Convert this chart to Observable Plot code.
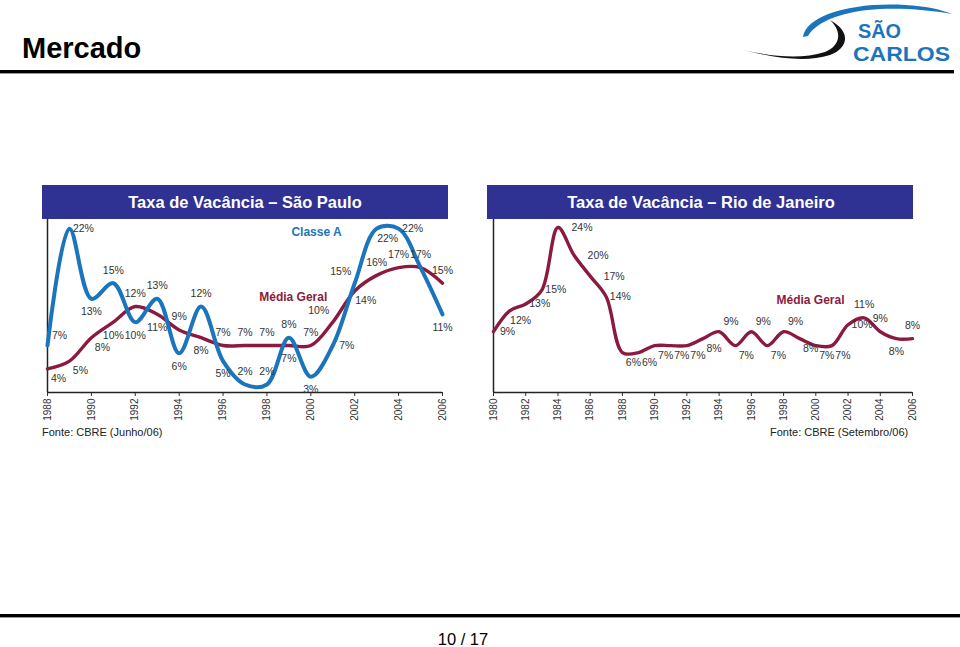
<!DOCTYPE html>
<html>
<head>
<meta charset="utf-8">
<script src="https://cdn.jsdelivr.net/npm/d3@7"></script>
<script src="https://cdn.jsdelivr.net/npm/@observablehq/plot@0.6"></script>
<style>
  body { margin: 0; background: #fff; font-family: Arial, "Liberation Sans", sans-serif; }
  #page { position: relative; width: 960px; height: 647px; overflow: hidden; background: #fff; }
  .chart { position: absolute; top: 208px; }
  #overlay { position: absolute; left: 0; top: 0; pointer-events: none; }
</style>
</head>
<body>
<div id="page">
  <div id="sp" class="chart" style="left:0px"></div>
  <div id="rj" class="chart" style="left:450px"></div>
  <svg id="overlay" width="960" height="647" font-family="Arial, 'Liberation Sans', sans-serif">
    <text x="22" y="58" font-size="29" font-weight="bold" fill="#000">Mercado</text>
    <rect x="0" y="70" width="954" height="3" fill="#000"/>
    <rect x="0" y="73" width="954" height="1" fill="#999"/>
    <!-- logo -->
    <path d="M803,37 C806,16 850,2 905,5 C925,6 940,9 952,14 C930,10 905,8 880,9 C845,11 818,20 808,36 Z" fill="#1b75bc"/>
    <path d="M743,50 C775,58 805,63 830,55 C848,48 852,32 830,20 C843,32 840,46 825,52 C800,60 770,56 743,50 Z" fill="#111"/>
    <text x="858" y="38" font-size="20" font-weight="bold" fill="#1b75bc" textLength="43" lengthAdjust="spacingAndGlyphs">SÃO</text>
    <text x="853" y="61" font-size="20" font-weight="bold" fill="#1b75bc" textLength="97" lengthAdjust="spacingAndGlyphs">CARLOS</text>
    <!-- banners -->
    <rect x="42" y="185" width="406" height="34" fill="#2f3193"/>
    <text x="245" y="208" text-anchor="middle" font-size="16.5" font-weight="bold" fill="#fff">Taxa de Vacância – São Paulo</text>
    <rect x="487" y="185" width="426" height="34" fill="#2f3193"/>
    <text x="701" y="208" text-anchor="middle" font-size="16.5" font-weight="bold" fill="#fff">Taxa de Vacância – Rio de Janeiro</text>
    <!-- sources -->
    <text x="42" y="436" font-size="11" fill="#222">Fonte: CBRE (Junho/06)</text>
    <text x="770" y="436" font-size="11" fill="#222">Fonte: CBRE (Setembro/06)</text>
    <!-- footer -->
    <rect x="0" y="614" width="960" height="3" fill="#000"/>
    <rect x="0" y="617" width="960" height="1" fill="#999"/>
    <text x="463" y="645" text-anchor="middle" font-size="16.5" fill="#000">10 / 17</text>
  </svg>
</div>
<script>
// ---------- Data: São Paulo ----------
const spYears = [1988,1989,1990,1991,1992,1993,1994,1995,1996,1997,1998,1999,2000,2001,2002,2003,2004,2005,2006];
const spClasseA = [7,22,13,15,10,13,6,12,5,2,2,8,3,7,15,22,22,17,11];
const spMediaGeral = [4,5,8,10,12,11,9,8,7,7,7,7,7,10,14,16,17,17,15];
const spTicks = [1988,1990,1992,1994,1996,1998,2000,2002,2004,2006];
// label placement codes (a=above, b=below, r=right, ar/br/al=diagonal, n=none)
const spClasseALabelPos = ["ar","r","b","a","b","a","b","a","b","a","a","a","b","r","al","br","r","a","b"];
const spMediaLabelPos = ["br","br","br","b","a","b","a","b","a","a","a","b","a","al","br","a","a","n","a"];

// ---------- Data: Rio de Janeiro ----------
const rjYears = [1980,1981,1982,1983,1984,1985,1986,1987,1988,1989,1990,1991,1992,1993,1994,1995,1996,1997,1998,1999,2000,2001,2002,2003,2004,2005,2006];
const rjMediaGeral = [9,12,13,15,24,20,17,14,6,6,7,7,7,8,9,7,9,7,9,8,7,7,10,11,9,8,8];
const rjTicks = [1980,1982,1984,1986,1988,1990,1992,1994,1996,1998,2000,2002,2004,2006];
const rjLabelPos = ["r","br","r","r","R","R","R","r","br","br","br","br","br","br","ar","br","ar","br","ar","br","br","br","r","a","a","b","a"];

const BLUE = "#1b75bc";
const MAROON = "#8c1a3e";
const FONT = "Arial, 'Liberation Sans', sans-serif";
const offsets = {a:[0,-13], b:[0,13], r:[14,0], R:[24,0], ar:[12,-10], br:[11,10], al:[-14,-12]};

function labelMarks(years, values, codes) {
  const rows = years.map((yr, i) => ({x: yr, y: values[i], code: codes[i]}));
  return Object.keys(offsets).map(c => Plot.text(rows.filter(d => d.code === c), {
    x: "x", y: "y", text: d => d.y + "%",
    dx: offsets[c][0], dy: offsets[c][1],
    fontSize: 10.5, fill: "#333", lineAnchor: "middle", textAnchor: "middle"
  }));
}

function axisMarks(xDomain, yDomain) {
  return [
    Plot.ruleY([yDomain[0]], {x1: xDomain[0], x2: xDomain[1], stroke: "#222", strokeWidth: 1.5}),
    Plot.ruleX([xDomain[0]], {y1: yDomain[0], y2: yDomain[1], stroke: "#222", strokeWidth: 1.5})
  ];
}

// ---------- São Paulo chart ----------
const spX = [1988, 2006], spY = [0.97, 23.3];
const spRowsA = spYears.map((yr, i) => ({year: yr, v: spClasseA[i]}));
const spRowsM = spYears.map((yr, i) => ({year: yr, v: spMediaGeral[i]}));
const sp = Plot.plot({
  width: 470, height: 232,
  marginLeft: 47, marginRight: 28, marginTop: 10, marginBottom: 48,
  x: {domain: spX, ticks: spTicks, tickFormat: d => String(d), tickRotate: -90, tickSize: 4, tickPadding: 2, label: null},
  y: {domain: spY, axis: null},
  style: {background: "transparent", fontFamily: FONT, fontSize: "10px", color: "#333", overflow: "visible"},
  marks: [
    ...axisMarks(spX, spY),
    Plot.line(spRowsM, {x: "year", y: "v", stroke: MAROON, strokeWidth: 3.4, curve: "catmull-rom"}),
    Plot.line(spRowsA, {x: "year", y: "v", stroke: BLUE, strokeWidth: 4, curve: "catmull-rom"}),
    ...labelMarks(spYears, spClasseA, spClasseALabelPos),
    ...labelMarks(spYears, spMediaGeral, spMediaLabelPos),
    Plot.text(["Classe A"], {x: 2000.26, y: 21.5, text: d => d, fill: BLUE, fontWeight: "bold", fontSize: 12, lineAnchor: "middle"}),
    Plot.text(["Média Geral"], {x: 1999.2, y: 13.15, text: d => d, fill: MAROON, fontWeight: "bold", fontSize: 12, lineAnchor: "middle"})
  ]
});
document.getElementById("sp").append(sp);

// ---------- Rio de Janeiro chart ----------
const rjX = [1980, 2006], rjY = [0.25, 25.3];
const rjRows = rjYears.map((yr, i) => ({year: yr, v: rjMediaGeral[i]}));
const rj = Plot.plot({
  width: 490, height: 232,
  marginLeft: 43, marginRight: 28, marginTop: 10, marginBottom: 48,
  x: {domain: rjX, ticks: rjTicks, tickFormat: d => String(d), tickRotate: -90, tickSize: 4, tickPadding: 2, label: null},
  y: {domain: rjY, axis: null},
  style: {background: "transparent", fontFamily: FONT, fontSize: "10px", color: "#333", overflow: "visible"},
  marks: [
    ...axisMarks(rjX, rjY),
    Plot.line(rjRows, {x: "year", y: "v", stroke: MAROON, strokeWidth: 3.4, curve: "catmull-rom"}),
    ...labelMarks(rjYears, rjMediaGeral, rjLabelPos),
    Plot.text(["Média Geral"], {x: 1999.67, y: 13.5, text: d => d, fill: MAROON, fontWeight: "bold", fontSize: 12, lineAnchor: "middle"})
  ]
});
document.getElementById("rj").append(rj);
</script>
</body>
</html>
